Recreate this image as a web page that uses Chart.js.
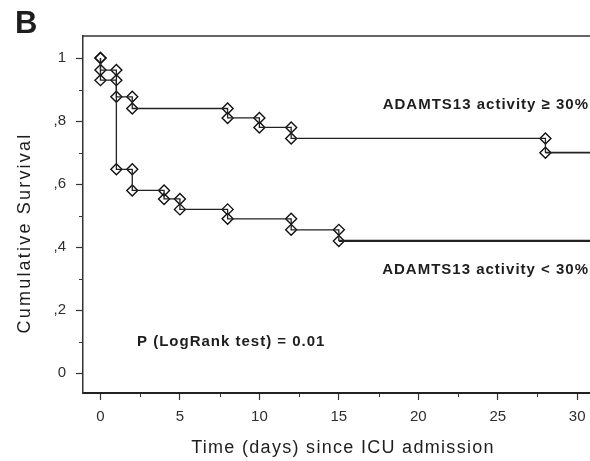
<!DOCTYPE html>
<html>
<head>
<meta charset="utf-8">
<script src="https://cdn.jsdelivr.net/npm/chart.js@4.4.1/dist/chart.umd.min.js"></script>
<style>
  html, body { margin: 0; padding: 0; background: #fff; overflow: hidden; }
  #wrap { position: relative; width: 600px; height: 461px; }
</style>
</head>
<body>
<div id="wrap"><canvas id="km"></canvas></div>
<script>
// ADAMTS13 activity >= 30%  (tiempo en dias, supervivencia acumulada)
const diasAlto = [0, 0, 1, 2, 8, 10, 12, 28, 31];
const supAlto  = [1, 0.962, 0.877, 0.84, 0.81, 0.78, 0.745, 0.70, 0.70];
// ADAMTS13 activity < 30%
const diasBajo = [0, 0, 1, 2, 4, 5, 8, 12, 15, 31];
const supBajo  = [1, 0.93, 0.647, 0.58, 0.553, 0.52, 0.49, 0.455, 0.42, 0.42];

const xMajor = [0, 5, 10, 15, 20, 25, 30];
const xMinor = [2.5, 7.5, 12.5, 17.5, 22.5, 27.5];
const xTickLabels = ['0', '5', '10', '15', '20', '25', '30'];
const yMajor = [0, 0.2, 0.4, 0.6, 0.8, 1];
const yMinor = [0.1, 0.3, 0.5, 0.7, 0.9];
const yTickLabels = ['0', ',2', ',4', ',6', ',8', '1'];

const FONT = "'Liberation Sans', Arial, sans-serif";
const INK = '#1e1e1e';

function curva(dias, sup) {
  return dias.map((d, i) => ({ x: d, y: sup[i] }));
}

// marcas en cada escalon: nivel anterior y nivel nuevo
function marcas(dias, sup) {
  const pts = [];
  for (let i = 1; i < dias.length - 1; i++) {
    pts.push({ x: dias[i], y: sup[i - 1] });
    pts.push({ x: dias[i], y: sup[i] });
  }
  return pts;
}

const textos = {
  id: 'textos',
  afterDraw(chart) {
    const { ctx, chartArea, scales } = chart;
    ctx.save();

    // marco superior
    ctx.strokeStyle = '#333';
    ctx.lineWidth = 1.5;
    ctx.beginPath();
    ctx.moveTo(chartArea.left, chartArea.top);
    ctx.lineTo(chart.width, chartArea.top);
    ctx.stroke();

    // ticks menores
    ctx.lineWidth = 1;
    ctx.strokeStyle = '#333';
    ctx.beginPath();
    xMinor.forEach(v => {
      const px = Math.round(scales.x.getPixelForValue(v)) + 0.5;
      ctx.moveTo(px, chartArea.bottom);
      ctx.lineTo(px, chartArea.bottom + 4);
    });
    yMinor.forEach(v => {
      const py = Math.round(scales.y.getPixelForValue(v)) + 0.5;
      ctx.moveTo(chartArea.left, py);
      ctx.lineTo(chartArea.left - 4, py);
    });
    ctx.stroke();

    ctx.fillStyle = INK;

    // letra del panel
    ctx.font = 'bold 31px ' + FONT;
    ctx.textAlign = 'left';
    ctx.textBaseline = 'alphabetic';
    ctx.fillText('B', 15, 33);

    // titulos de ejes
    ctx.font = '18px ' + FONT;
    ctx.letterSpacing = '1.3px';
    ctx.textAlign = 'center';
    ctx.textBaseline = 'middle';
    ctx.fillText('Time (days) since ICU admission', 343, 448);

    ctx.save();
    ctx.translate(25, 233);
    ctx.rotate(-Math.PI / 2);
    ctx.letterSpacing = '2.2px';
    ctx.fillText('Cumulative Survival', 0, 0);
    ctx.restore();

    // etiquetas de las curvas
    ctx.font = 'bold 15px ' + FONT;
    ctx.letterSpacing = '1px';
    ctx.textAlign = 'right';
    ctx.fillText('ADAMTS13 activity \u2265 30%', 589, 105);
    ctx.fillText('ADAMTS13 activity < 30%', 589, 270);

    ctx.textAlign = 'left';
    ctx.fillText('P (LogRank test) = 0.01', 137, 342);

    ctx.restore();
  }
};

const ctx = document.getElementById('km').getContext('2d');

const marcaEstilo = {
  showLine: false,
  pointStyle: 'rectRot',
  pointRadius: 5.5,
  pointBorderWidth: 1.4,
  pointBorderColor: '#111',
  pointBackgroundColor: 'rgba(255,255,255,0)'
};

new Chart(ctx, {
  type: 'line',
  data: {
    datasets: [
      {
        label: 'ADAMTS13 activity \u2265 30%',
        data: curva(diasAlto, supAlto),
        stepped: 'before',
        borderColor: '#222',
        borderWidth: 1.3,
        pointRadius: 0,
        fill: false,
        segment: {
          borderWidth: c => c.p0DataIndex >= diasAlto.length - 2 ? 1.7 : 1.3
        }
      },
      {
        label: 'ADAMTS13 activity < 30%',
        data: curva(diasBajo, supBajo),
        stepped: 'before',
        borderColor: '#222',
        borderWidth: 1.3,
        pointRadius: 0,
        fill: false,
        segment: {
          borderWidth: c => c.p0DataIndex >= diasBajo.length - 2 ? 2.2 : 1.3
        }
      },
      Object.assign({ label: 'marcas alto', data: marcas(diasAlto, supAlto) }, marcaEstilo),
      Object.assign({ label: 'marcas bajo', data: marcas(diasBajo, supBajo) }, marcaEstilo)
    ]
  },
  options: {
    responsive: true,
    maintainAspectRatio: false,
    animation: false,
    layout: { padding: { top: 36, right: 2, left: 0, bottom: 0 } },
    plugins: {
      legend: { display: false },
      tooltip: { enabled: false }
    },
    scales: {
      x: {
        type: 'linear',
        min: -1.1,
        max: 31,
        afterBuildTicks: s => { s.ticks = xMajor.map(v => ({ value: v })); },
        afterFit: s => { s.height = 68; },
        ticks: {
          callback: v => xTickLabels[xMajor.indexOf(v)],
          font: { family: FONT, size: 15 },
          color: '#2e2e2e',
          padding: 8,
          maxRotation: 0,
          autoSkip: false
        },
        grid: { drawOnChartArea: false, tickLength: 7, color: '#333', tickWidth: 1.2 },
        border: { color: '#222', width: 2 }
      },
      y: {
        type: 'linear',
        min: -0.0625,
        max: 1.07,
        afterBuildTicks: s => { s.ticks = yMajor.map(v => ({ value: v })); },
        afterFit: s => { s.width = 83; },
        ticks: {
          callback: v => yTickLabels[yMajor.indexOf(v)],
          font: { family: FONT, size: 15 },
          color: '#2e2e2e',
          padding: 10
        },
        grid: { drawOnChartArea: false, tickLength: 7, color: '#333', tickWidth: 1.2 },
        border: { color: '#333', width: 1.5 }
      }
    }
  },
  plugins: [textos]
});
</script>
</body>
</html>
